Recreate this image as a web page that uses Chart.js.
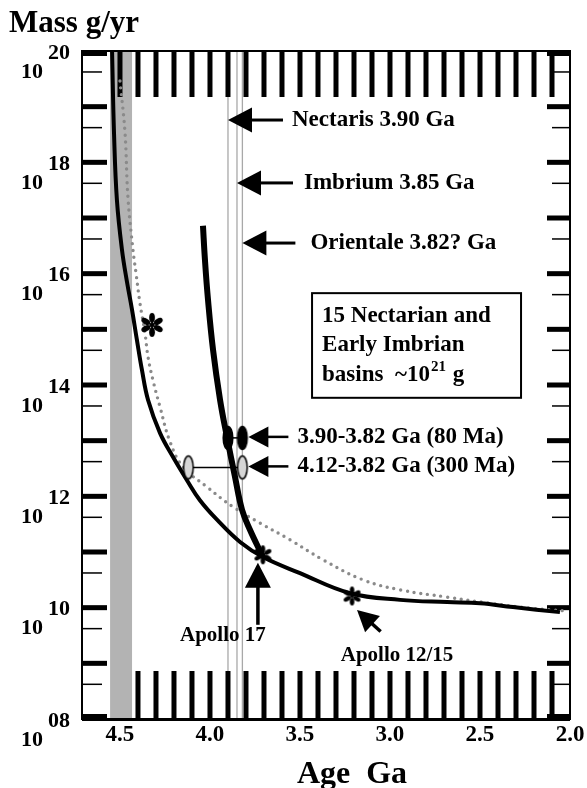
<!DOCTYPE html>
<html>
<head>
<meta charset="utf-8">
<script src="https://cdn.jsdelivr.net/npm/chart.js@4.4.1/dist/chart.umd.min.js"></script>
<style>
  html, body { margin: 0; padding: 0; background: #fff; }
  canvas { display: block; }
</style>
</head>
<body>
<canvas id="chart" width="587" height="788"></canvas>
<script>
// ages in Ga, mass flux as log10(g/yr)
const curveAAge = [4.544, 4.533, 4.517, 4.489, 4.461, 4.433, 4.406, 4.378, 4.344, 4.278, 4.206, 4.128, 4.056, 3.961, 3.833, 3.706, 3.500, 3.222, 2.944, 2.683, 2.500, 2.317, 2.056];
const curveALog = [20.00, 18.51, 17.32, 16.43, 15.85, 15.35, 14.81, 14.27, 13.73, 13.14, 12.71, 12.29, 11.93, 11.58, 11.18, 10.91, 10.62, 10.26, 10.14, 10.10, 10.08, 10.01, 9.92];

const curveBAge = [4.039, 4.028, 4.011, 3.983, 3.944, 3.906, 3.861, 3.822, 3.778, 3.706];
const curveBLog = [16.86, 16.25, 15.53, 14.63, 13.73, 13.07, 12.35, 11.76, 11.40, 10.91];

const dottedAge = [4.500, 4.472, 4.456, 4.428, 4.411, 4.389, 4.361, 4.344, 4.317, 4.278, 4.222, 4.150, 4.017, 3.872, 3.722, 3.556, 3.372, 3.150, 2.944, 2.683, 2.444, 2.222, 2.017];
const dottedLog = [19.46, 18.53, 17.38, 16.43, 16.01, 15.47, 14.93, 14.50, 14.09, 13.61, 12.98, 12.53, 12.17, 11.81, 11.52, 11.22, 10.86, 10.50, 10.32, 10.19, 10.08, 9.99, 9.94];

const starAge = [4.322, 3.706, 3.211];
const starLog = [15.08, 10.95, 10.21];

const blackPairAge = [3.90, 3.82];
const blackPairLog = [13.05, 13.05];
const greyPairAge = [4.12, 3.82];
const greyPairLog = [12.52, 12.52];

const bandAges = [4.555, 4.433];
const basinAges = [3.90, 3.85, 3.82];
const basinLabels = ['Nectaris 3.90 Ga', 'Imbrium 3.85 Ga', 'Orientale 3.82? Ga'];
const basinArrowLog = [18.76, 17.63, 16.55];

const xTickValues = [4.5, 4.0, 3.5, 3.0, 2.5, 2.0];
const xTickLabels = ['4.5', '4.0', '3.5', '3.0', '2.5', '2.0'];
const yTickExps = [20, 18, 16, 14, 12, 10, 8];
const yTickLabels = ['20', '18', '16', '14', '12', '10', '08'];

const pairLabels = ['3.90-3.82 Ga (80 Ma)', '4.12-3.82 Ga (300 Ma)'];
const boxLines = ['15 Nectarian and', 'Early Imbrian'];
const boxAges = [3.433, 2.272];
const boxLog = [15.65, 13.77];

const FONT = '"Liberation Serif", "Times New Roman", serif';

function pts(ages, logs) {
  return ages.map((a, i) => ({ x: a, y: Math.pow(10, logs[i]) }));
}

function ellipseImg(fill) {
  const c = document.createElement('canvas');
  c.width = 14; c.height = 28;
  const g = c.getContext('2d');
  g.beginPath();
  g.ellipse(7, 14, 4.8, 11.5, 0, 0, Math.PI * 2);
  g.fillStyle = fill; g.fill();
  g.lineWidth = 1.5; g.strokeStyle = '#000'; g.stroke();
  return c;
}

function asteriskImg(r) {
  const s = Math.ceil(r * 2 + 4);
  const c = document.createElement('canvas');
  c.width = s; c.height = s;
  const g = c.getContext('2d');
  g.translate(s / 2, s / 2);
  g.fillStyle = '#000';
  for (let k = 0; k < 6; k++) {
    g.save();
    g.rotate(k * Math.PI / 3);
    g.beginPath();
    g.ellipse(0, -r * 0.6, r * 0.24, r * 0.4, 0, 0, Math.PI * 2);
    g.fill();
    g.fillRect(-r * 0.08, -r * 0.35, r * 0.16, r * 0.35);
    g.restore();
  }
  return c;
}

function arrow(ctx, tx, ty, ang, len, head, halfW, shaftW) {
  ctx.save();
  ctx.translate(tx, ty);
  ctx.rotate(ang);
  ctx.beginPath();
  ctx.moveTo(0, 0);
  ctx.lineTo(head, -halfW);
  ctx.lineTo(head, halfW);
  ctx.closePath();
  ctx.fill();
  ctx.fillRect(head - 1, -shaftW / 2, len - head + 1, shaftW);
  ctx.restore();
}

const decor = {
  id: 'decor',
  beforeDatasetsDraw(chart) {
    const { ctx, chartArea: a, scales: { x, y } } = chart;
    ctx.save();
    // grey band near 4.5 Ga
    const b0 = x.getPixelForValue(bandAges[0]), b1 = x.getPixelForValue(bandAges[1]);
    ctx.fillStyle = '#b3b3b3';
    ctx.fillRect(b0, a.top, b1 - b0, a.bottom - a.top);
    // basin age lines
    ctx.strokeStyle = '#a8a8a8';
    ctx.lineWidth = 1.3;
    basinAges.forEach(ag => {
      const X = x.getPixelForValue(ag);
      ctx.beginPath(); ctx.moveTo(X, a.top); ctx.lineTo(X, a.bottom); ctx.stroke();
    });
    // top / bottom ticks every 0.1 Ga
    ctx.fillStyle = '#000';
    for (let i = 0; i <= 24; i++) {
      const X = x.getPixelForValue(4.5 - i * 0.1);
      ctx.fillRect(X - 2.5, a.top, 5, 46);
      if (i > 0) ctx.fillRect(X - 2.5, a.bottom - 48, 5, 48);
    }
    // left / right ticks
    for (let e = 8; e <= 20; e++) {
      const Y = y.getPixelForValue(Math.pow(10, e));
      const yy = Math.min(Math.max(Y - 2.5, a.top), a.bottom - 5);
      ctx.fillRect(a.left, yy, 25, 5);
      ctx.fillRect(a.right - 23, yy, 23, 5);
      if (e < 20) {
        const Ym = y.getPixelForValue(4.2 * Math.pow(10, e));
        ctx.fillRect(a.left, Ym - 0.75, 20, 1.5);
        ctx.fillRect(a.right - 18, Ym - 0.75, 18, 1.5);
      }
    }
    // frame
    ctx.strokeStyle = '#000';
    ctx.lineWidth = 2;
    ctx.strokeRect(a.left, a.top, a.right - a.left, a.bottom - a.top);
    ctx.fillRect(a.left, a.bottom - 1, a.right - a.left, 3);
    ctx.restore();
  },
  afterDatasetsDraw(chart) {
    const { ctx, chartArea: a, scales: { x, y } } = chart;
    const P = (ag, lg) => [x.getPixelForValue(ag), y.getPixelForValue(Math.pow(10, lg))];
    ctx.save();
    ctx.fillStyle = '#000';
    ctx.textBaseline = 'middle';

    // basin arrows and labels
    ctx.font = 'bold 23px ' + FONT;
    ctx.textAlign = 'left';
    const shafts = [55, 56, 53], gaps = [64, 67, 68];
    basinAges.forEach((ag, i) => {
      const [X, Y] = P(ag, basinArrowLog[i]);
      arrow(ctx, X, Y, 0, shafts[i], 24, 12.5, 3);
      ctx.fillText(basinLabels[i], X + gaps[i], Y);
    });

    // ellipse pair arrows
    [[blackPairAge[1], blackPairLog[1]], [greyPairAge[1], greyPairLog[1]]].forEach((p, i) => {
      const [X, Y] = P(p[0], p[1]);
      arrow(ctx, X + 6, Y - 1, 0, 40, 20, 10.5, 2.5);
      ctx.fillText(pairLabels[i], X + 55, Y - 1);
    });

    // text box
    const [bx0, by0] = P(boxAges[0], boxLog[0]);
    const [bx1, by1] = P(boxAges[1], boxLog[1]);
    ctx.lineWidth = 2;
    ctx.strokeStyle = '#000';
    ctx.strokeRect(bx0, by0, bx1 - bx0, by1 - by0);
    ctx.fillText(boxLines[0], bx0 + 10, by0 + 23);
    ctx.fillText(boxLines[1], bx0 + 10, by0 + 52);
    const t1 = 'basins  ~10';
    ctx.fillText(t1, bx0 + 10, by0 + 82);
    const w1 = ctx.measureText(t1).width;
    ctx.font = 'bold 15px ' + FONT;
    ctx.fillText('21', bx0 + 11 + w1, by0 + 74);
    const w2 = ctx.measureText('21').width;
    ctx.font = 'bold 23px ' + FONT;
    ctx.fillText(' g', bx0 + 12 + w1 + w2, by0 + 82);

    // Apollo 17
    const [ax, ay] = P(starAge[1], starLog[1]);
    arrow(ctx, ax - 5, ay + 8, Math.PI / 2, 62, 25, 13, 3.5);
    ctx.font = 'bold 21px ' + FONT;
    ctx.textAlign = 'center';
    ctx.fillText('Apollo 17', ax - 40, ay + 81);

    // Apollo 12/15
    const [cx, cy] = P(starAge[2], starLog[2]);
    arrow(ctx, cx + 5, cy + 14, Math.atan2(21, 23), 32, 21, 11, 3.5);
    ctx.fillText('Apollo 12/15', cx + 45, cy + 60);

    // axis tick labels
    ctx.font = 'bold 23px ' + FONT;
    xTickValues.forEach((v, i) => {
      ctx.fillText(xTickLabels[i], x.getPixelForValue(v), a.bottom + 16);
    });
    ctx.font = 'bold 22px ' + FONT;
    ctx.textAlign = 'left';
    yTickExps.forEach((e, i) => {
      const Y = y.getPixelForValue(Math.pow(10, e));
      ctx.fillText(yTickLabels[i], 48, Y + 2);
      ctx.fillText('10', 21, Y + 21);
    });

    // axis titles
    ctx.font = 'bold 31px ' + FONT;
    ctx.fillText('Mass g/yr', 9, 24);
    ctx.font = 'bold 32px ' + FONT;
    ctx.textAlign = 'center';
    ctx.fillText('Age  Ga', 352, 775);
    ctx.restore();
  }
};

new Chart(document.getElementById('chart'), {
  type: 'scatter',
  data: {
    datasets: [
      {
        data: pts(starAge, starLog),
        pointStyle: [asteriskImg(12), asteriskImg(9.5), asteriskImg(9.5)],
        pointRadius: 5,
        showLine: false
      },
      {
        data: pts(blackPairAge, blackPairLog),
        showLine: true, borderColor: '#000', borderWidth: 1.5,
        pointStyle: ellipseImg('#000'), pointRadius: 5
      },
      {
        data: pts(greyPairAge, greyPairLog),
        showLine: true, borderColor: '#000', borderWidth: 1.5,
        pointStyle: ellipseImg('#d6d6d6'), pointRadius: 5
      },
      {
        data: pts(curveBAge, curveBLog),
        showLine: true, borderColor: '#000', borderWidth: 6,
        pointRadius: 0, tension: 0.4
      },
      {
        data: pts(curveAAge, curveALog),
        showLine: true, borderColor: '#000', borderWidth: 4,
        pointRadius: 0, tension: 0.4
      },
      {
        data: pts(dottedAge, dottedLog),
        showLine: true, borderColor: '#8a8a8a', borderWidth: 3.4,
        borderDash: [0, 6.8], borderCapStyle: 'round',
        pointRadius: 0, tension: 0.4
      }
    ]
  },
  options: {
    responsive: false,
    animation: false,
    events: [],
    layout: { padding: { left: 82, right: 17, top: 51, bottom: 69 } },
    scales: {
      x: { type: 'linear', reverse: true, min: 2.0, max: 4.711, display: false },
      y: { type: 'logarithmic', min: 1e8, max: 1e20, display: false }
    },
    plugins: { legend: { display: false }, tooltip: { enabled: false } }
  },
  plugins: [decor]
});
</script>
</body>
</html>
